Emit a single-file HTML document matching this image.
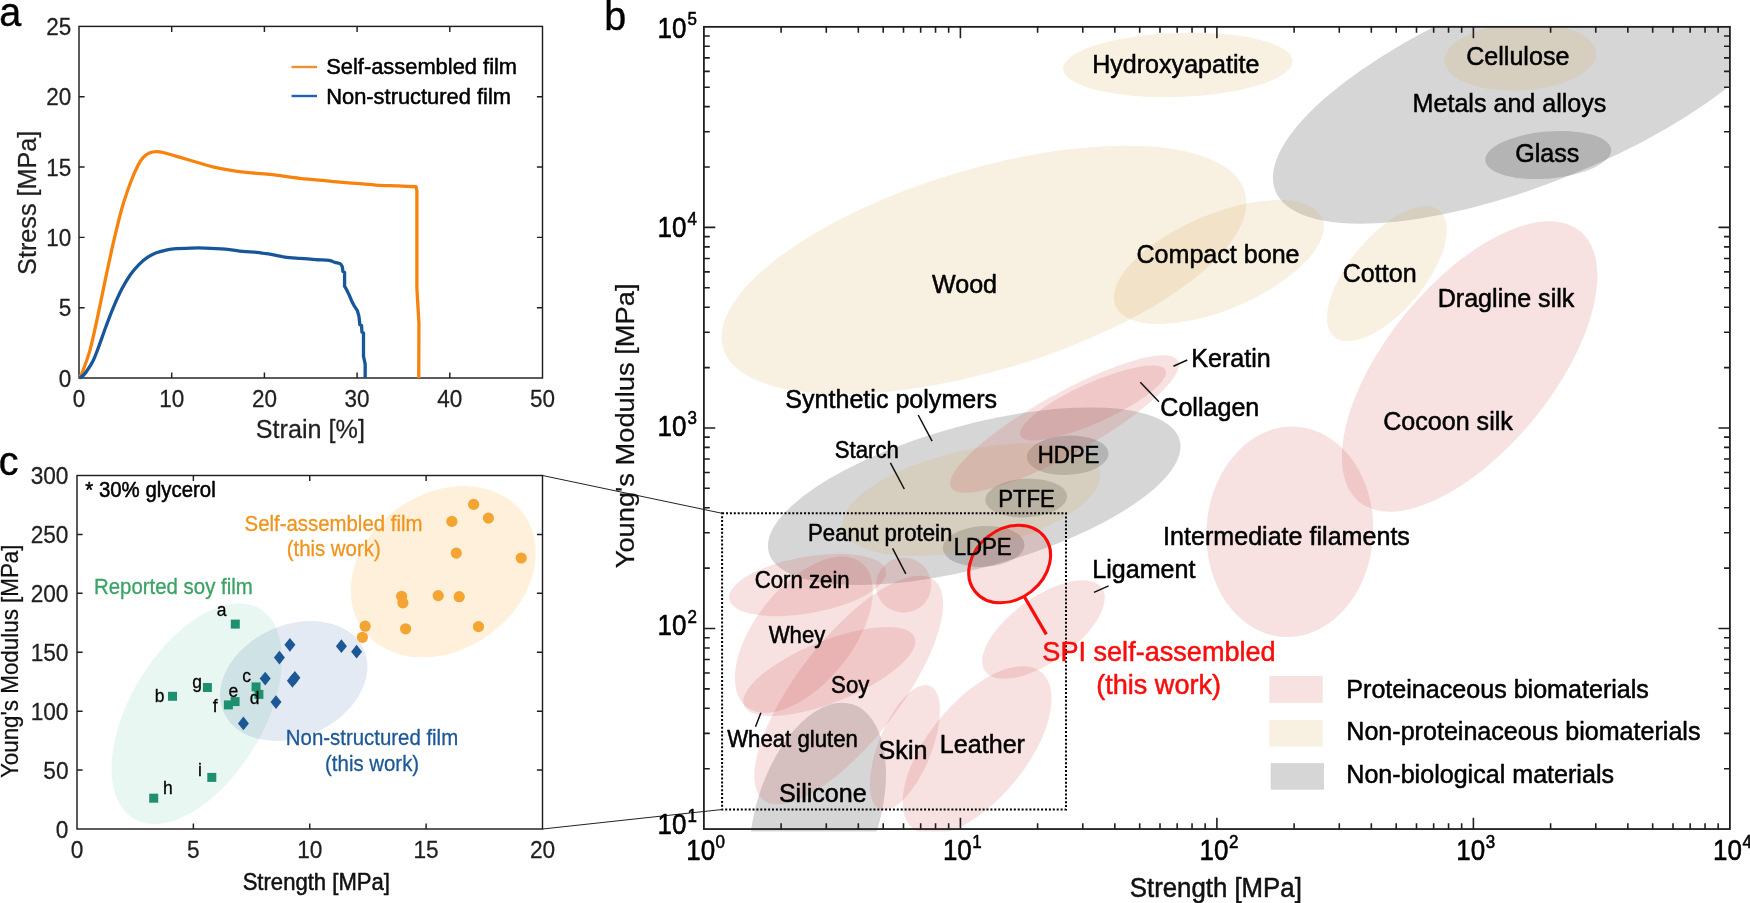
<!DOCTYPE html>
<html lang="en"><head><meta charset="utf-8"><title>Figure</title>
<style>
html,body{margin:0;padding:0;background:#fff;}
body{width:1750px;height:903px;overflow:hidden;}
svg{display:block;font-family:"Liberation Sans",sans-serif;}
text{stroke-linejoin:round;}
.m{mix-blend-mode:multiply;}
</style></head><body>
<svg width="1750" height="903" viewBox="0 0 1750 903">
<rect width="1750" height="903" fill="#fff"/>
<g id="panel-a">
<rect x="79.00" y="26.40" width="463.50" height="351.60" fill="none" stroke="#1f1f1f" stroke-width="1.45"/>
<path d="M171.70 378.00v-5.60 M171.70 26.40v5.60 M264.40 378.00v-5.60 M264.40 26.40v5.60 M357.10 378.00v-5.60 M357.10 26.40v5.60 M449.80 378.00v-5.60 M449.80 26.40v5.60 M79.00 307.68h5.60 M542.50 307.68h-5.60 M79.00 237.36h5.60 M542.50 237.36h-5.60 M79.00 167.04h5.60 M542.50 167.04h-5.60 M79.00 96.72h5.60 M542.50 96.72h-5.60 " stroke="#1f1f1f" stroke-width="1.45" fill="none"/>
<path d="M79.00 378.00 C79.46 377.30 80.87 375.70 81.78 373.78 C82.69 371.86 83.06 370.55 84.47 366.47 C85.88 362.39 88.05 357.47 90.22 349.31 C92.38 341.15 95.05 328.57 97.45 317.52 C99.84 306.48 101.94 295.49 104.59 283.07 C107.23 270.64 110.41 255.46 113.30 242.99 C116.19 230.52 119.05 218.33 121.92 208.25 C124.79 198.17 127.90 189.61 130.54 182.51 C133.18 175.41 135.61 169.85 137.77 165.63 C139.93 161.41 141.60 159.30 143.52 157.20 C145.44 155.09 147.12 153.91 149.27 152.98 C151.41 152.04 153.76 151.57 156.40 151.57 C159.05 151.57 161.27 152.04 165.12 152.98 C168.97 153.91 174.22 155.65 179.49 157.20 C184.76 158.74 190.98 160.62 196.73 162.26 C202.48 163.90 208.25 165.68 213.97 167.04 C219.69 168.40 225.25 169.48 231.03 170.42 C236.81 171.35 242.15 172.01 248.64 172.67 C255.13 173.32 261.40 173.42 269.96 174.35 C278.52 175.29 290.88 177.24 300.00 178.29 C309.11 179.35 316.53 179.93 324.65 180.68 C332.78 181.43 340.26 182.07 348.76 182.79 C357.25 183.52 367.30 184.53 375.64 185.04 C383.98 185.56 392.09 185.60 398.81 185.89 C405.54 186.17 413.11 186.59 415.96 186.73 L416.89 190.95 L416.89 288.13 L418.93 323.15 L418.75 378.00" fill="none" stroke="#F7830F" stroke-width="3.3" stroke-linejoin="round"/>
<path d="M79.00 378.00 C79.62 377.65 81.55 376.85 82.71 375.89 C83.87 374.93 84.22 374.77 85.95 372.23 C87.68 369.70 90.94 365.01 93.09 360.70 C95.24 356.39 96.67 352.10 98.84 346.36 C101.00 340.61 103.66 332.69 106.07 326.24 C108.48 319.80 110.66 313.92 113.30 307.68 C115.94 301.44 119.05 294.37 121.92 288.83 C124.79 283.30 127.67 278.57 130.54 274.49 C133.41 270.41 136.29 267.25 139.16 264.36 C142.04 261.48 144.91 259.11 147.78 257.19 C150.66 255.27 153.52 253.98 156.40 252.83 C159.29 251.68 162.26 250.96 165.12 250.30 C167.98 249.64 169.24 249.27 173.55 248.89 C177.86 248.52 185.73 248.19 190.98 248.05 C196.23 247.91 199.32 247.86 205.07 248.05 C210.82 248.24 219.18 248.61 225.47 249.17 C231.75 249.74 237.55 250.91 242.80 251.42 C248.05 251.94 252.46 251.80 256.98 252.27 C261.51 252.74 265.33 253.44 269.96 254.24 C274.60 255.03 279.79 256.35 284.79 257.05 C289.80 257.75 294.90 258.03 300.00 258.46 C305.10 258.88 310.53 259.28 315.38 259.58 C320.24 259.89 325.86 259.82 329.10 260.28 C332.35 260.75 333.04 261.83 334.85 262.39 C336.66 262.96 338.71 262.96 339.95 263.66 C341.19 264.36 341.88 266.12 342.27 266.61 L342.92 271.54 L344.59 272.38 L344.59 286.16 L346.62 289.82 L349.13 294.88 L351.54 300.65 L354.04 305.57 L357.38 310.63 L358.95 316.40 L359.88 324.70 L361.55 325.54 L361.92 332.15 L363.50 333.00 L363.50 356.34 L365.16 363.80 L365.16 378.00" fill="none" stroke="#18569A" stroke-width="3.3" stroke-linejoin="round"/>
<text transform="translate(79.0 407.1) scale(1 1.09)" font-size="22.5" text-anchor="middle" fill="#1f1f1f" stroke="#1f1f1f" stroke-width="0.25">0</text>
<text transform="translate(171.7 407.1) scale(1 1.09)" font-size="22.5" text-anchor="middle" fill="#1f1f1f" stroke="#1f1f1f" stroke-width="0.25">10</text>
<text transform="translate(264.4 407.1) scale(1 1.09)" font-size="22.5" text-anchor="middle" fill="#1f1f1f" stroke="#1f1f1f" stroke-width="0.25">20</text>
<text transform="translate(357.1 407.1) scale(1 1.09)" font-size="22.5" text-anchor="middle" fill="#1f1f1f" stroke="#1f1f1f" stroke-width="0.25">30</text>
<text transform="translate(449.8 407.1) scale(1 1.09)" font-size="22.5" text-anchor="middle" fill="#1f1f1f" stroke="#1f1f1f" stroke-width="0.25">40</text>
<text transform="translate(542.5 407.1) scale(1 1.09)" font-size="22.5" text-anchor="middle" fill="#1f1f1f" stroke="#1f1f1f" stroke-width="0.25">50</text>
<text transform="translate(71.2 386.6) scale(1 1.09)" font-size="22.5" text-anchor="end" fill="#1f1f1f" stroke="#1f1f1f" stroke-width="0.25">0</text>
<text transform="translate(71.2 316.3) scale(1 1.09)" font-size="22.5" text-anchor="end" fill="#1f1f1f" stroke="#1f1f1f" stroke-width="0.25">5</text>
<text transform="translate(71.2 246.0) scale(1 1.09)" font-size="22.5" text-anchor="end" fill="#1f1f1f" stroke="#1f1f1f" stroke-width="0.25">10</text>
<text transform="translate(71.2 175.6) scale(1 1.09)" font-size="22.5" text-anchor="end" fill="#1f1f1f" stroke="#1f1f1f" stroke-width="0.25">15</text>
<text transform="translate(71.2 105.3) scale(1 1.09)" font-size="22.5" text-anchor="end" fill="#1f1f1f" stroke="#1f1f1f" stroke-width="0.25">20</text>
<text transform="translate(71.2 35.0) scale(1 1.09)" font-size="22.5" text-anchor="end" fill="#1f1f1f" stroke="#1f1f1f" stroke-width="0.25">25</text>
<text transform="translate(310.3 438) scale(1 1.045)" font-size="25.2" text-anchor="middle" fill="#1f1f1f" stroke="#1f1f1f" stroke-width="0.25">Strain [%]</text>
<text transform="translate(36.2 202.8) rotate(-90) scale(1 1.045)" font-size="25.2" text-anchor="middle" fill="#1f1f1f" stroke="#1f1f1f" stroke-width="0.25">Stress [MPa]</text>
<path d="M291.5 67h25.5" stroke="#F0902A" stroke-width="2.4"/>
<path d="M291.5 96h25.5" stroke="#1F5FB8" stroke-width="2.4"/>
<text transform="translate(326.2 74.1) scale(1 1.045)" font-size="21.9" fill="#000" stroke="#000" stroke-width="0.5">Self-assembled film</text>
<text transform="translate(326.2 104) scale(1 1.045)" font-size="21.9" fill="#000" stroke="#000" stroke-width="0.5">Non-structured film</text>
<text transform="translate(-0.8 26.0) scale(1 1.03)" font-size="39.5" fill="#000" stroke="#000" stroke-width="0.4">a</text>
</g>
<g id="panel-c">
<ellipse class="m" cx="196.75" cy="713.65" rx="122.4" ry="66.6" transform="rotate(-58.9 196.75 713.65)" fill="#E8F7F1"/>
<ellipse class="m" cx="443.2" cy="571.7" rx="99" ry="78" transform="rotate(-35.4 443.2 571.7)" fill="#FEF0DB"/>
<ellipse class="m" cx="293.75" cy="681" rx="76.8" ry="55.9" transform="rotate(-24.3 293.75 681)" fill="#E4EAF3"/>
<circle cx="473.6" cy="504.4" r="5.6" fill="#F4A431"/>
<circle cx="451.9" cy="521.4" r="5.6" fill="#F4A431"/>
<circle cx="488.4" cy="518.1" r="5.6" fill="#F4A431"/>
<circle cx="456.3" cy="553.1" r="5.6" fill="#F4A431"/>
<circle cx="521.2" cy="558.0" r="5.6" fill="#F4A431"/>
<circle cx="401.6" cy="596.3" r="5.6" fill="#F4A431"/>
<circle cx="402.9" cy="602.9" r="5.6" fill="#F4A431"/>
<circle cx="438.2" cy="595.6" r="5.6" fill="#F4A431"/>
<circle cx="459.2" cy="596.7" r="5.6" fill="#F4A431"/>
<circle cx="478.5" cy="626.6" r="5.6" fill="#F4A431"/>
<circle cx="405.6" cy="628.8" r="5.6" fill="#F4A431"/>
<circle cx="365.1" cy="626.2" r="5.6" fill="#F4A431"/>
<circle cx="362.4" cy="637.3" r="5.6" fill="#F4A431"/>
<rect x="230.8" y="619.6" width="9" height="9" fill="#1E9070"/>
<rect x="168.0" y="691.8" width="9" height="9" fill="#1E9070"/>
<rect x="202.9" y="683.0" width="9" height="9" fill="#1E9070"/>
<rect x="251.6" y="682.4" width="9" height="9" fill="#1E9070"/>
<rect x="254.4" y="689.9" width="9" height="9" fill="#1E9070"/>
<rect x="230.6" y="697.1" width="9" height="9" fill="#1E9070"/>
<rect x="223.9" y="700.4" width="9" height="9" fill="#1E9070"/>
<rect x="207.3" y="772.9" width="9" height="9" fill="#1E9070"/>
<rect x="149.2" y="793.7" width="9" height="9" fill="#1E9070"/>
<path d="M289.9 637.9l5.5 6.9l-5.5 6.9l-5.5 -6.9z" fill="#1D5896"/>
<path d="M279.4 650.7l5.5 6.9l-5.5 6.9l-5.5 -6.9z" fill="#1D5896"/>
<path d="M265.2 671.7l5.5 6.9l-5.5 6.9l-5.5 -6.9z" fill="#1D5896"/>
<path d="M294.9 670.9l5.5 6.9l-5.5 6.9l-5.5 -6.9z" fill="#1D5896"/>
<path d="M292.4 673.9l5.5 6.9l-5.5 6.9l-5.5 -6.9z" fill="#1D5896"/>
<path d="M276.0 695.2l5.5 6.9l-5.5 6.9l-5.5 -6.9z" fill="#1D5896"/>
<path d="M243.4 716.5l5.5 6.9l-5.5 6.9l-5.5 -6.9z" fill="#1D5896"/>
<path d="M341.4 639.3l5.5 6.9l-5.5 6.9l-5.5 -6.9z" fill="#1D5896"/>
<path d="M356.6 644.8l5.5 6.9l-5.5 6.9l-5.5 -6.9z" fill="#1D5896"/>
<text transform="translate(221.5 616.3) scale(1 1.045)" font-size="17.5" text-anchor="middle" fill="#000" stroke="#000" stroke-width="0.25">a</text>
<text transform="translate(159.5 702.1) scale(1 1.045)" font-size="17.5" text-anchor="middle" fill="#000" stroke="#000" stroke-width="0.25">b</text>
<text transform="translate(197 688.3) scale(1 1.045)" font-size="17.5" text-anchor="middle" fill="#000" stroke="#000" stroke-width="0.25">g</text>
<text transform="translate(246.7 681.9) scale(1 1.045)" font-size="17.5" text-anchor="middle" fill="#000" stroke="#000" stroke-width="0.25">c</text>
<text transform="translate(254.5 704.3) scale(1 1.045)" font-size="17.5" text-anchor="middle" fill="#000" stroke="#000" stroke-width="0.25">d</text>
<text transform="translate(233.3 696.6) scale(1 1.045)" font-size="17.5" text-anchor="middle" fill="#000" stroke="#000" stroke-width="0.25">e</text>
<text transform="translate(215.1 711.8) scale(1 1.045)" font-size="17.5" text-anchor="middle" fill="#000" stroke="#000" stroke-width="0.25">f</text>
<text transform="translate(199.9 776) scale(1 1.045)" font-size="17.5" text-anchor="middle" fill="#000" stroke="#000" stroke-width="0.25">i</text>
<text transform="translate(167.8 794) scale(1 1.045)" font-size="17.5" text-anchor="middle" fill="#000" stroke="#000" stroke-width="0.25">h</text>
<rect x="77.00" y="475.50" width="465.50" height="353.50" fill="none" stroke="#1f1f1f" stroke-width="1.45"/>
<path d="M193.38 829.00v-5.60 M193.38 475.50v5.60 M309.75 829.00v-5.60 M309.75 475.50v5.60 M426.12 829.00v-5.60 M426.12 475.50v5.60 M77.00 770.08h5.60 M542.50 770.08h-5.60 M77.00 711.17h5.60 M542.50 711.17h-5.60 M77.00 652.25h5.60 M542.50 652.25h-5.60 M77.00 593.33h5.60 M542.50 593.33h-5.60 M77.00 534.42h5.60 M542.50 534.42h-5.60 " stroke="#1f1f1f" stroke-width="1.45" fill="none"/>
<text transform="translate(77.0 858.3) scale(1 1.07)" font-size="22.7" text-anchor="middle" fill="#1f1f1f" stroke="#1f1f1f" stroke-width="0.25">0</text>
<text transform="translate(193.4 858.3) scale(1 1.07)" font-size="22.7" text-anchor="middle" fill="#1f1f1f" stroke="#1f1f1f" stroke-width="0.25">5</text>
<text transform="translate(309.8 858.3) scale(1 1.07)" font-size="22.7" text-anchor="middle" fill="#1f1f1f" stroke="#1f1f1f" stroke-width="0.25">10</text>
<text transform="translate(426.1 858.3) scale(1 1.07)" font-size="22.7" text-anchor="middle" fill="#1f1f1f" stroke="#1f1f1f" stroke-width="0.25">15</text>
<text transform="translate(542.5 858.3) scale(1 1.07)" font-size="22.7" text-anchor="middle" fill="#1f1f1f" stroke="#1f1f1f" stroke-width="0.25">20</text>
<text transform="translate(68.5 837.7) scale(1 1.07)" font-size="22.7" text-anchor="end" fill="#1f1f1f" stroke="#1f1f1f" stroke-width="0.25">0</text>
<text transform="translate(68.5 778.8) scale(1 1.07)" font-size="22.7" text-anchor="end" fill="#1f1f1f" stroke="#1f1f1f" stroke-width="0.25">50</text>
<text transform="translate(68.5 719.9) scale(1 1.07)" font-size="22.7" text-anchor="end" fill="#1f1f1f" stroke="#1f1f1f" stroke-width="0.25">100</text>
<text transform="translate(68.5 661.0) scale(1 1.07)" font-size="22.7" text-anchor="end" fill="#1f1f1f" stroke="#1f1f1f" stroke-width="0.25">150</text>
<text transform="translate(68.5 602.0) scale(1 1.07)" font-size="22.7" text-anchor="end" fill="#1f1f1f" stroke="#1f1f1f" stroke-width="0.25">200</text>
<text transform="translate(68.5 543.1) scale(1 1.07)" font-size="22.7" text-anchor="end" fill="#1f1f1f" stroke="#1f1f1f" stroke-width="0.25">250</text>
<text transform="translate(68.5 484.2) scale(1 1.07)" font-size="22.7" text-anchor="end" fill="#1f1f1f" stroke="#1f1f1f" stroke-width="0.25">300</text>
<text transform="translate(316.3 889.7) scale(1 1.045)" font-size="22.1" text-anchor="middle" fill="#111" stroke="#111" stroke-width="0.5">Strength [MPa]</text>
<text transform="translate(17.8 661.3) rotate(-90) scale(1 1.045)" font-size="22.4" text-anchor="middle" fill="#111" stroke="#111" stroke-width="0.25">Young's Modulus [MPa]</text>
<text transform="translate(85.3 497.3) scale(1 1.045)" font-size="20.4" fill="#000" stroke="#000" stroke-width="0.5">* 30% glycerol</text>
<text transform="translate(333.5 530.5) scale(1 1.045)" font-size="20.4" text-anchor="middle" fill="#EF951F" stroke="#EF951F" stroke-width="0.3">Self-assembled film</text>
<text transform="translate(333.7 556.4) scale(1 1.045)" font-size="20.4" text-anchor="middle" fill="#EF951F" stroke="#EF951F" stroke-width="0.3">(this work)</text>
<text transform="translate(173.4 593.9) scale(1 1.045)" font-size="20.4" text-anchor="middle" fill="#3BA366" stroke="#3BA366" stroke-width="0.3">Reported soy film</text>
<text transform="translate(372 745) scale(1 1.045)" font-size="20.4" text-anchor="middle" fill="#1D5896" stroke="#1D5896" stroke-width="0.3">Non-structured film</text>
<text transform="translate(372.1 771.3) scale(1 1.045)" font-size="20.4" text-anchor="middle" fill="#1D5896" stroke="#1D5896" stroke-width="0.3">(this work)</text>
<text transform="translate(-1.3 474.7) scale(1 1.03)" font-size="39.5" fill="#000" stroke="#000" stroke-width="0.4">c</text>
</g>
<defs><clipPath id="clipb"><rect x="703.90" y="26.85" width="1026.00" height="804.70"/></clipPath></defs>
<g id="panel-b">
<g clip-path="url(#clipb)">
<ellipse cx="1533.6" cy="86.7" rx="278.5" ry="95.9" transform="rotate(-22 1533.6 86.7)" fill="rgb(10,10,10)" fill-opacity="0.167" />
<ellipse cx="1548.2" cy="155" rx="63.2" ry="23.5" transform="rotate(-5 1548.2 155)" fill="rgb(10,10,10)" fill-opacity="0.167" />
<ellipse cx="974.2" cy="496.2" rx="213" ry="71.3" transform="rotate(-15.3 974.2 496.2)" fill="rgb(10,10,10)" fill-opacity="0.167" />
<ellipse cx="1067.7" cy="455.3" rx="40.9" ry="19.6" transform="rotate(-3 1067.7 455.3)" fill="rgb(10,10,10)" fill-opacity="0.167" />
<ellipse cx="1026.2" cy="498.1" rx="41" ry="19.3" transform="rotate(-3 1026.2 498.1)" fill="rgb(10,10,10)" fill-opacity="0.167" />
<ellipse cx="983.7" cy="546.4" rx="40.9" ry="20.4" transform="rotate(-3 983.7 546.4)" fill="rgb(10,10,10)" fill-opacity="0.167" />
<ellipse cx="817.8" cy="813.5" rx="114.6" ry="61.6" transform="rotate(-72.4 817.8 813.5)" fill="rgb(10,10,10)" fill-opacity="0.167" />
<ellipse cx="1177.9" cy="64.9" rx="114.75" ry="32" transform="rotate(-2 1177.9 64.9)" fill="rgb(213,165,75)" fill-opacity="0.167" />
<ellipse cx="984" cy="269.9" rx="272.3" ry="100.7" transform="rotate(-16.7 984 269.9)" fill="rgb(213,165,75)" fill-opacity="0.167" />
<ellipse cx="1218.85" cy="262.05" rx="112.2" ry="47.7" transform="rotate(-22.9 1218.85 262.05)" fill="rgb(213,165,75)" fill-opacity="0.167" />
<ellipse cx="1386.9" cy="273.7" rx="82.1" ry="37.4" transform="rotate(-50.1 1386.9 273.7)" fill="rgb(213,165,75)" fill-opacity="0.167" />
<ellipse cx="1520.4" cy="57" rx="76" ry="33.4" transform="rotate(-3 1520.4 57)" fill="rgb(213,165,75)" fill-opacity="0.167" />
<ellipse cx="971.4" cy="499.7" rx="131.5" ry="49.7" transform="rotate(-12.6 971.4 499.7)" fill="rgb(213,165,75)" fill-opacity="0.167" />
<ellipse cx="1469.6" cy="366.5" rx="174.7" ry="83" transform="rotate(-50.8 1469.6 366.5)" fill="rgb(207,75,75)" fill-opacity="0.167" />
<ellipse cx="1289.8" cy="531.8" rx="83.4" ry="105.3" transform="rotate(3.5 1289.8 531.8)" fill="rgb(207,75,75)" fill-opacity="0.167" />
<ellipse cx="1064.5" cy="424" rx="130" ry="30.3" transform="rotate(-29.2 1064.5 424)" fill="rgb(207,75,75)" fill-opacity="0.167" />
<ellipse cx="1093" cy="403" rx="79.6" ry="20" transform="rotate(-24.2 1093 403)" fill="rgb(207,75,75)" fill-opacity="0.167" />
<ellipse cx="807.5" cy="585" rx="79.6" ry="28.2" transform="rotate(-10.2 807.5 585)" fill="rgb(207,75,75)" fill-opacity="0.167" />
<ellipse cx="903.6" cy="585.2" rx="27.7" ry="27.5" transform="rotate(0 903.6 585.2)" fill="rgb(207,75,75)" fill-opacity="0.167" />
<ellipse cx="803.85" cy="634.7" rx="92.2" ry="48.6" transform="rotate(-51.3 803.85 634.7)" fill="rgb(207,75,75)" fill-opacity="0.167" />
<ellipse cx="829.25" cy="671.5" rx="91.8" ry="30.8" transform="rotate(-21.8 829.25 671.5)" fill="rgb(207,75,75)" fill-opacity="0.167" />
<ellipse cx="848.7" cy="690" rx="139.2" ry="51.1" transform="rotate(-52.2 848.7 690)" fill="rgb(207,75,75)" fill-opacity="0.167" />
<ellipse cx="904.9" cy="747.5" rx="66.5" ry="26.6" transform="rotate(-68.1 904.9 747.5)" fill="rgb(207,75,75)" fill-opacity="0.167" />
<ellipse cx="977.1" cy="750.4" rx="101.2" ry="48.9" transform="rotate(-50.7 977.1 750.4)" fill="rgb(207,75,75)" fill-opacity="0.167" />
<ellipse cx="1043.5" cy="629.5" rx="71.7" ry="32.2" transform="rotate(-35.6 1043.5 629.5)" fill="rgb(207,75,75)" fill-opacity="0.167" />
<ellipse cx="1009.65" cy="564" rx="44.2" ry="35" transform="rotate(-38.5 1009.65 564)" fill="rgb(207,75,75)" fill-opacity="0.167" />
</g>
<ellipse cx="1009.65" cy="564" rx="44.2" ry="35" transform="rotate(-38.5 1009.65 564)" fill="none" stroke="#F80D0D" stroke-width="3.1"/>
<path d="M1024.5 597L1046.3 634.4" stroke="#F80D0D" stroke-width="3.3" fill="none"/>
<rect x="722.1" y="513.3" width="343.9" height="296.2" fill="none" stroke="#000" stroke-width="2" stroke-dasharray="2 1.9"/>
<path d="M542.5 475.5L722.1 513.3M542.5 829L722.1 809.5" stroke="#222" stroke-width="1" fill="none"/>
<path d="M1173.4 366.2L1187.3 360 M1140.3 382.3L1158.9 401.7 M918.2 415L932.1 441.2 M890.4 462.8L904.3 489 M892.6 548.3L905.8 573.9 M760.9 712.8L755.5 726.8 M1094 592.4L1108.6 585.9" stroke="#111" stroke-width="1.5" fill="none"/>
<rect x="703.90" y="26.85" width="1026.00" height="802.20" fill="none" stroke="#1f1f1f" stroke-width="1.8"/>
<path d="M781.11 829.05v-5.9 M781.11 26.85v5.9 M826.28 829.05v-5.9 M826.28 26.85v5.9 M858.33 829.05v-5.9 M858.33 26.85v5.9 M883.19 829.05v-5.9 M883.19 26.85v5.9 M903.50 829.05v-5.9 M903.50 26.85v5.9 M920.67 829.05v-5.9 M920.67 26.85v5.9 M935.54 829.05v-5.9 M935.54 26.85v5.9 M948.66 829.05v-5.9 M948.66 26.85v5.9 M960.40 829.05v-11.4 M960.40 26.85v11.4 M1037.61 829.05v-5.9 M1037.61 26.85v5.9 M1082.78 829.05v-5.9 M1082.78 26.85v5.9 M1114.83 829.05v-5.9 M1114.83 26.85v5.9 M1139.69 829.05v-5.9 M1139.69 26.85v5.9 M1160.00 829.05v-5.9 M1160.00 26.85v5.9 M1177.17 829.05v-5.9 M1177.17 26.85v5.9 M1192.04 829.05v-5.9 M1192.04 26.85v5.9 M1205.16 829.05v-5.9 M1205.16 26.85v5.9 M1216.90 829.05v-11.4 M1216.90 26.85v11.4 M1294.11 829.05v-5.9 M1294.11 26.85v5.9 M1339.28 829.05v-5.9 M1339.28 26.85v5.9 M1371.33 829.05v-5.9 M1371.33 26.85v5.9 M1396.19 829.05v-5.9 M1396.19 26.85v5.9 M1416.50 829.05v-5.9 M1416.50 26.85v5.9 M1433.67 829.05v-5.9 M1433.67 26.85v5.9 M1448.54 829.05v-5.9 M1448.54 26.85v5.9 M1461.66 829.05v-5.9 M1461.66 26.85v5.9 M1473.40 829.05v-11.4 M1473.40 26.85v11.4 M1550.61 829.05v-5.9 M1550.61 26.85v5.9 M1595.78 829.05v-5.9 M1595.78 26.85v5.9 M1627.83 829.05v-5.9 M1627.83 26.85v5.9 M1652.69 829.05v-5.9 M1652.69 26.85v5.9 M1673.00 829.05v-5.9 M1673.00 26.85v5.9 M1690.17 829.05v-5.9 M1690.17 26.85v5.9 M1705.04 829.05v-5.9 M1705.04 26.85v5.9 M1718.16 829.05v-5.9 M1718.16 26.85v5.9 M703.90 768.68h5.9 M1729.90 768.68h-5.9 M703.90 733.36h5.9 M1729.90 733.36h-5.9 M703.90 708.31h5.9 M1729.90 708.31h-5.9 M703.90 688.87h5.9 M1729.90 688.87h-5.9 M703.90 672.99h5.9 M1729.90 672.99h-5.9 M703.90 659.57h5.9 M1729.90 659.57h-5.9 M703.90 647.94h5.9 M1729.90 647.94h-5.9 M703.90 637.68h5.9 M1729.90 637.68h-5.9 M703.90 628.50h11.4 M1729.90 628.50h-11.4 M703.90 568.13h5.9 M1729.90 568.13h-5.9 M703.90 532.81h5.9 M1729.90 532.81h-5.9 M703.90 507.76h5.9 M1729.90 507.76h-5.9 M703.90 488.32h5.9 M1729.90 488.32h-5.9 M703.90 472.44h5.9 M1729.90 472.44h-5.9 M703.90 459.02h5.9 M1729.90 459.02h-5.9 M703.90 447.39h5.9 M1729.90 447.39h-5.9 M703.90 437.13h5.9 M1729.90 437.13h-5.9 M703.90 427.95h11.4 M1729.90 427.95h-11.4 M703.90 367.58h5.9 M1729.90 367.58h-5.9 M703.90 332.26h5.9 M1729.90 332.26h-5.9 M703.90 307.21h5.9 M1729.90 307.21h-5.9 M703.90 287.77h5.9 M1729.90 287.77h-5.9 M703.90 271.89h5.9 M1729.90 271.89h-5.9 M703.90 258.47h5.9 M1729.90 258.47h-5.9 M703.90 246.84h5.9 M1729.90 246.84h-5.9 M703.90 236.58h5.9 M1729.90 236.58h-5.9 M703.90 227.40h11.4 M1729.90 227.40h-11.4 M703.90 167.03h5.9 M1729.90 167.03h-5.9 M703.90 131.71h5.9 M1729.90 131.71h-5.9 M703.90 106.66h5.9 M1729.90 106.66h-5.9 M703.90 87.22h5.9 M1729.90 87.22h-5.9 M703.90 71.34h5.9 M1729.90 71.34h-5.9 M703.90 57.92h5.9 M1729.90 57.92h-5.9 M703.90 46.29h5.9 M1729.90 46.29h-5.9 M703.90 36.03h5.9 M1729.90 36.03h-5.9 " stroke="#1f1f1f" stroke-width="1.6" fill="none"/>
<text transform="translate(715.1 859.6) scale(1 1.11)" font-size="26" text-anchor="end" fill="#000" stroke="#000" stroke-width="0.5">10</text>
<text transform="translate(715.6 848) scale(1 1.11)" font-size="17" fill="#000" stroke="#000" stroke-width="0.5">0</text>
<text transform="translate(971.8 859.6) scale(1 1.11)" font-size="26" text-anchor="end" fill="#000" stroke="#000" stroke-width="0.5">10</text>
<text transform="translate(972.3 848) scale(1 1.11)" font-size="17" fill="#000" stroke="#000" stroke-width="0.5">1</text>
<text transform="translate(1228.5 859.6) scale(1 1.11)" font-size="26" text-anchor="end" fill="#000" stroke="#000" stroke-width="0.5">10</text>
<text transform="translate(1229.0 848) scale(1 1.11)" font-size="17" fill="#000" stroke="#000" stroke-width="0.5">2</text>
<text transform="translate(1485.2 859.6) scale(1 1.11)" font-size="26" text-anchor="end" fill="#000" stroke="#000" stroke-width="0.5">10</text>
<text transform="translate(1485.7 848) scale(1 1.11)" font-size="17" fill="#000" stroke="#000" stroke-width="0.5">3</text>
<text transform="translate(1741.9 859.6) scale(1 1.11)" font-size="26" text-anchor="end" fill="#000" stroke="#000" stroke-width="0.5">10</text>
<text transform="translate(1742.4 848) scale(1 1.11)" font-size="17" fill="#000" stroke="#000" stroke-width="0.5">4</text>
<text transform="translate(686.4 833.5) scale(1 1.11)" font-size="26" text-anchor="end" fill="#000" stroke="#000" stroke-width="0.5">10</text>
<text transform="translate(687.5 821.6) scale(1 1.11)" font-size="17" fill="#000" stroke="#000" stroke-width="0.5">1</text>
<text transform="translate(686.4 634.7) scale(1 1.11)" font-size="26" text-anchor="end" fill="#000" stroke="#000" stroke-width="0.5">10</text>
<text transform="translate(687.5 622.7) scale(1 1.11)" font-size="17" fill="#000" stroke="#000" stroke-width="0.5">2</text>
<text transform="translate(686.4 435.9) scale(1 1.11)" font-size="26" text-anchor="end" fill="#000" stroke="#000" stroke-width="0.5">10</text>
<text transform="translate(687.5 423.8) scale(1 1.11)" font-size="17" fill="#000" stroke="#000" stroke-width="0.5">3</text>
<text transform="translate(686.4 237.2) scale(1 1.11)" font-size="26" text-anchor="end" fill="#000" stroke="#000" stroke-width="0.5">10</text>
<text transform="translate(687.5 224.8) scale(1 1.11)" font-size="17" fill="#000" stroke="#000" stroke-width="0.5">4</text>
<text transform="translate(686.4 38.4) scale(1 1.11)" font-size="26" text-anchor="end" fill="#000" stroke="#000" stroke-width="0.5">10</text>
<text transform="translate(687.5 24.7) scale(1 1.11)" font-size="17" fill="#000" stroke="#000" stroke-width="0.5">5</text>
<text transform="translate(1215.8 896.5) scale(1 1.045)" font-size="25.8" text-anchor="middle" fill="#111" stroke="#111" stroke-width="0.5">Strength [MPa]</text>
<text transform="translate(634.2 425.9) rotate(-90) scale(1 0.97)" font-size="27.3" text-anchor="middle" fill="#111" stroke="#111" stroke-width="0.25">Young's Modulus [MPa]</text>
<text transform="translate(604.2 29.7) scale(1 1.03)" font-size="39.5" fill="#000" stroke="#000" stroke-width="0.4">b</text>
<text transform="translate(1175.8 73.1) scale(1 1.045)" font-size="25.1" text-anchor="middle" fill="#000" stroke="#000" stroke-width="0.5">Hydroxyapatite</text>
<text transform="translate(1517.8 65.3) scale(1 1.045)" font-size="25.1" text-anchor="middle" fill="#000" stroke="#000" stroke-width="0.5">Cellulose</text>
<text transform="translate(1509.5 112) scale(1 1.045)" font-size="25.1" text-anchor="middle" fill="#000" stroke="#000" stroke-width="0.5">Metals and alloys</text>
<text transform="translate(1547.3 162.4) scale(1 1.045)" font-size="25.1" text-anchor="middle" fill="#000" stroke="#000" stroke-width="0.5">Glass</text>
<text transform="translate(964.5 292.7) scale(1 1.045)" font-size="25.1" text-anchor="middle" fill="#000" stroke="#000" stroke-width="0.5">Wood</text>
<text transform="translate(1218 262.7) scale(1 1.045)" font-size="25.1" text-anchor="middle" fill="#000" stroke="#000" stroke-width="0.5">Compact bone</text>
<text transform="translate(1379.7 281.7) scale(1 1.045)" font-size="25.1" text-anchor="middle" fill="#000" stroke="#000" stroke-width="0.5">Cotton</text>
<text transform="translate(1506 306.9) scale(1 1.045)" font-size="25.1" text-anchor="middle" fill="#000" stroke="#000" stroke-width="0.5">Dragline silk</text>
<text transform="translate(1448 430) scale(1 1.045)" font-size="25.1" text-anchor="middle" fill="#000" stroke="#000" stroke-width="0.5">Cocoon silk</text>
<text transform="translate(1231 366.6) scale(1 1.045)" font-size="25.1" text-anchor="middle" fill="#000" stroke="#000" stroke-width="0.5">Keratin</text>
<text transform="translate(1209.8 415.6) scale(1 1.045)" font-size="25.1" text-anchor="middle" fill="#000" stroke="#000" stroke-width="0.5">Collagen</text>
<text transform="translate(891.2 407.9) scale(1 1.045)" font-size="25.1" text-anchor="middle" fill="#000" stroke="#000" stroke-width="0.5">Synthetic polymers</text>
<text transform="translate(866.8 458.2) scale(1 1.045)" font-size="22.2" text-anchor="middle" fill="#000" stroke="#000" stroke-width="0.5">Starch</text>
<text transform="translate(1068.6 462.8) scale(1 1.045)" font-size="22.2" text-anchor="middle" fill="#000" stroke="#000" stroke-width="0.5">HDPE</text>
<text transform="translate(1026.5 506.6) scale(1 1.045)" font-size="22.2" text-anchor="middle" fill="#000" stroke="#000" stroke-width="0.5">PTFE</text>
<text transform="translate(982.7 555.1) scale(1 1.045)" font-size="22.2" text-anchor="middle" fill="#000" stroke="#000" stroke-width="0.5">LDPE</text>
<text transform="translate(880.2 541.2) scale(1 1.045)" font-size="22.2" text-anchor="middle" fill="#000" stroke="#000" stroke-width="0.5">Peanut protein</text>
<text transform="translate(802.2 587.8) scale(1 1.045)" font-size="22.2" text-anchor="middle" fill="#000" stroke="#000" stroke-width="0.5">Corn zein</text>
<text transform="translate(797 643) scale(1 1.045)" font-size="22.2" text-anchor="middle" fill="#000" stroke="#000" stroke-width="0.5">Whey</text>
<text transform="translate(850.2 692.9) scale(1 1.045)" font-size="22.2" text-anchor="middle" fill="#000" stroke="#000" stroke-width="0.5">Soy</text>
<text transform="translate(792.5 746.7) scale(1 1.045)" font-size="22.2" text-anchor="middle" fill="#000" stroke="#000" stroke-width="0.5">Wheat gluten</text>
<text transform="translate(822.8 802) scale(1 1.045)" font-size="25.1" text-anchor="middle" fill="#000" stroke="#000" stroke-width="0.5">Silicone</text>
<text transform="translate(903 758.8) scale(1 1.045)" font-size="25.1" text-anchor="middle" fill="#000" stroke="#000" stroke-width="0.5">Skin</text>
<text transform="translate(982.4 752.8) scale(1 1.045)" font-size="25.1" text-anchor="middle" fill="#000" stroke="#000" stroke-width="0.5">Leather</text>
<text transform="translate(1143.8 577.7) scale(1 1.045)" font-size="25.1" text-anchor="middle" fill="#000" stroke="#000" stroke-width="0.5">Ligament</text>
<text transform="translate(1286.5 545.2) scale(1 1.045)" font-size="25.1" text-anchor="middle" fill="#000" stroke="#000" stroke-width="0.5">Intermediate filaments</text>
<text transform="translate(1159 661.1) scale(1 1.045)" font-size="27.1" text-anchor="middle" fill="#F80D0D" stroke="#F80D0D" stroke-width="0.5">SPI self-assembled</text>
<text transform="translate(1158.6 693.5) scale(1 1.045)" font-size="27.1" text-anchor="middle" fill="#F80D0D" stroke="#F80D0D" stroke-width="0.5">(this work)</text>
<rect x="1269.4" y="676" width="53.3" height="26.8" fill="rgb(247,225,225)"/>
<rect x="1269.4" y="719.9" width="53.3" height="26.5" fill="rgb(248,240,225)"/>
<rect x="1270.7" y="763.1" width="53.3" height="26.6" fill="rgb(214,214,214)"/>
<text transform="translate(1346.3 698.2) scale(1 1.045)" font-size="25.1" fill="#000" stroke="#000" stroke-width="0.5">Proteinaceous biomaterials</text>
<text transform="translate(1346.3 740.1) scale(1 1.045)" font-size="25.1" fill="#000" stroke="#000" stroke-width="0.5">Non-proteinaceous biomaterials</text>
<text transform="translate(1346.3 782.5) scale(1 1.045)" font-size="25.1" fill="#000" stroke="#000" stroke-width="0.5">Non-biological materials</text>
</g>
</svg>
</body></html>
